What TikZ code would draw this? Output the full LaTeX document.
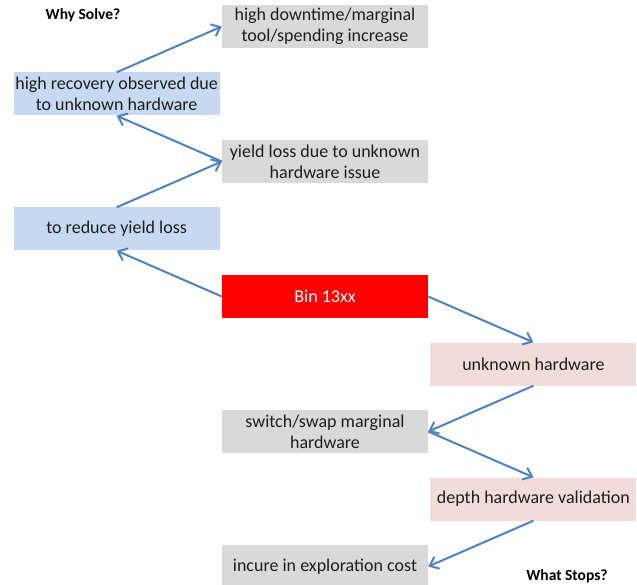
\documentclass[tikz,border=0pt]{standalone}
\usepackage{fontspec}
\setmainfont{Carlito}
\usepackage{tikz}
\usetikzlibrary{positioning,arrows.meta}
\definecolor{arrowblue}{RGB}{79,129,189}
\definecolor{boxgray}{RGB}{217,217,217}
\definecolor{boxblue}{RGB}{198,217,240}
\definecolor{boxpink}{RGB}{242,220,219}
\definecolor{textdark}{RGB}{30,30,30}

\begin{document}
\begin{tikzpicture}[
        x=1pt, y=1pt,
        node distance=24.1pt and 2pt,
        box/.style={minimum width=206pt, minimum height=43pt, inner sep=0pt,
            align=center, text=textdark, font=\fontsize{18}{21}\selectfont},
        graybox/.style={box, fill=boxgray},
        bluebox/.style={box, fill=boxblue},
        pinkbox/.style={box, fill=boxpink},
        redbox/.style={box, fill=red, text=white},
        heading/.style={font=\fontsize{15.5}{18}\selectfont\bfseries, text=black},
        link/.style={draw=arrowblue, line width=2pt, -{Straight Barb[length=8pt,width=13pt]}}
    ]
        \useasboundingbox (0,0) rectangle (637,-585);

        % Nodes
        \node[graybox] (downtime) at (325,-26.5) {high downtime/marginal\\tool/spending increase};
        \node[bluebox, below left=of downtime] (recovery) {high recovery observed due\\to unknown hardware};
        \node[graybox, below right=of recovery] (yield) {yield loss due to unknown\\hardware issue};
        \node[bluebox, below left=of yield] (reduce) {to reduce yield loss};
        \node[redbox, below right=of reduce] (bin) {Bin 13xx};
        \node[pinkbox, below right=of bin] (unknown) {unknown hardware};
        \node[graybox, below left=of unknown] (swap) {switch/swap marginal\\hardware};
        \node[pinkbox, below right=of swap] (depth) {depth hardware validation};
        \node[graybox, below left=of depth] (cost) {incure in exploration cost};

        \node[heading] (why) at (83,-15) {Why Solve?};
        \node[heading] (stops) at (567,-576) {What Stops?};

        % Edges
        \draw[link] (recovery.north) -- (downtime.west);
        \draw[link] (yield.west) -- (recovery.south);
        \draw[link] (reduce.north) -- (yield.west);
        \draw[link] (bin.west) -- (reduce.south);
        \draw[link] (bin.east) -- (unknown.north);
        \draw[link] (unknown.south) -- (swap.east);
        \draw[link] (swap.east) -- (depth.north);
        \draw[link] (depth.south) -- (cost.east);
    \end{tikzpicture}
\end{document}
